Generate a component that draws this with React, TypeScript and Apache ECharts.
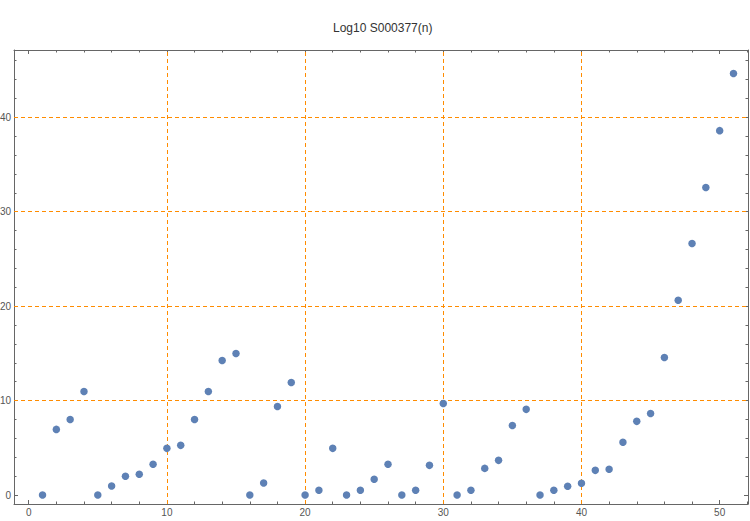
import React, { useEffect, useRef } from "react";
import * as echarts from "echarts";

const titleText = "Log10 S000377(n)";
const nValues = [
  1, 2, 3, 4, 5, 6, 7, 8, 9, 10, 11, 12, 13, 14, 15, 16, 17, 18, 19, 20, 21, 22, 23, 24, 25, 26,
  27, 28, 29, 30, 31, 32, 33, 34, 35, 36, 37, 38, 39, 40, 41, 42, 43, 44, 45, 46, 47, 48, 49, 50, 51,
];
const logValues = [
  0, 6.95, 8.0, 10.97, 0, 0.95, 1.98, 2.19, 3.25, 4.94, 5.26, 8.0, 10.97, 14.25, 14.99, 0, 1.27,
  9.38, 11.92, 0, 0.5, 4.94, 0, 0.5, 1.66, 3.25, 0, 0.5, 3.14, 9.7, 0, 0.5, 2.82, 3.67, 7.37, 9.07,
  0, 0.5, 0.92, 1.24, 2.61, 2.72, 5.58, 7.8, 8.64, 14.57, 20.63, 26.63, 32.56, 38.59, 44.64,
];
const gridXValues = [10, 20, 30, 40];
const gridYValues = [10, 20, 30, 40];

const X_MIN = -1.064;
const X_MAX = 52.05;
const Y_MIN = -0.953;
const Y_MAX = 47.13;

export default function App() {
  const ref = useRef<HTMLDivElement>(null);

  useEffect(() => {
    document.body.style.margin = "0";
    if (!ref.current) return;
    const chart = echarts.init(ref.current, undefined, { renderer: "svg" });
    const frameColor = "#666666";
    const labelColor = "#555555";
    const fontFamily = "Liberation Sans, Arial, sans-serif";

    const makeAxis = (min: number, max: number, position: string, showLabel: boolean) => ({
      type: "value",
      position,
      min,
      max,
      minInterval: 10,
      maxInterval: 10,
      axisLine: { show: true, onZero: false, lineStyle: { color: frameColor, width: 1 } },
      axisTick: { show: true, inside: true, length: 4, lineStyle: { color: frameColor } },
      minorTick: { show: true, splitNumber: 5, length: 2.5, lineStyle: { color: frameColor } },
      splitLine: { show: false },
      minorSplitLine: { show: false },
      axisLabel: {
        show: showLabel,
        showMinLabel: false,
        showMaxLabel: false,
        color: labelColor,
        fontSize: 10,
        fontFamily,
        margin: 3,
      },
    });

    const option: any = {
      animation: false,
      backgroundColor: "#ffffff",
      title: {
        text: titleText,
        left: 328,
        top: 17,
        textStyle: { fontSize: 12, fontWeight: "normal", color: "#333333", fontFamily },
      },
      grid: {
        left: 14,
        right: 2,
        top: 50,
        bottom: 17,
        containLabel: false,
        outerBoundsMode: "none",
      },
      xAxis: [makeAxis(X_MIN, X_MAX, "bottom", true), makeAxis(X_MIN, X_MAX, "top", false)],
      yAxis: [makeAxis(Y_MIN, Y_MAX, "left", true), makeAxis(Y_MIN, Y_MAX, "right", false)],
      series: [
        {
          type: "scatter",
          xAxisIndex: 0,
          yAxisIndex: 0,
          symbol: "circle",
          symbolSize: 7.5,
          itemStyle: { color: "#5E81B5", opacity: 1 },
          data: nValues.map((n, i) => [n, logValues[i]]),
          z: 3,
          markLine: {
            silent: true,
            symbol: "none",
            label: { show: false },
            lineStyle: { color: "#FF8C00", type: [4, 3], width: 1 },
            data: [
              ...gridXValues.map((v) => ({ xAxis: v })),
              ...gridYValues.map((v) => ({ yAxis: v })),
            ],
            z: 1,
          },
        },
      ],
    };
    chart.setOption(option);
    return () => chart.dispose();
  }, []);

  return <div ref={ref} style={{ width: 750, height: 521 }} />;
}
